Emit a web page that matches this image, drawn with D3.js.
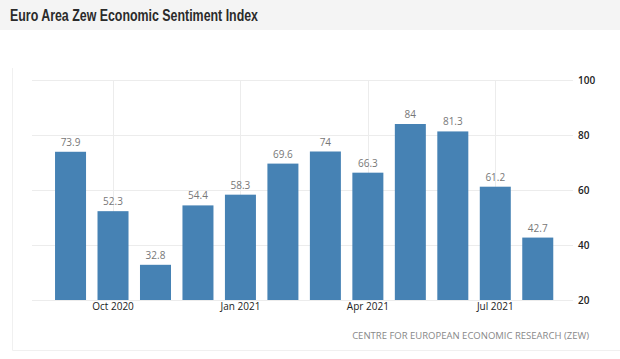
<!DOCTYPE html>
<html><head><meta charset="utf-8">
<script src="https://cdn.jsdelivr.net/npm/d3@7"></script>
<style>
body{margin:0;background:#fff;}
svg{display:block;}
</style></head>
<body>
<svg id="c" width="620" height="359"></svg>
<script>
const months = ["Sep 2020","Oct 2020","Nov 2020","Dec 2020","Jan 2021","Feb 2021","Mar 2021","Apr 2021","May 2021","Jun 2021","Jul 2021","Aug 2021"];
const values = [73.9,52.3,32.8,54.4,58.3,69.6,74,66.3,84,81.3,61.2,42.7];
const xTickLabels = ["Oct 2020","Jan 2021","Apr 2021","Jul 2021"];
const yTicks = [20,40,60,80,100];
const title = "Euro Area Zew Economic Sentiment Index";
const source = "CENTRE FOR EUROPEAN ECONOMIC RESEARCH (ZEW)";

const svg = d3.select("#c");
// title bar
svg.append("rect").attr("x",0).attr("y",0).attr("width",620).attr("height",30).attr("fill","#f4f4f4");
svg.append("text").attr("x",10).attr("y",21).text(title)
  .attr("font-family","Liberation Sans Narrow, Liberation Sans, Arial, sans-serif").attr("font-weight","bold")
  .attr("font-size",16).attr("fill","#2b2b2b")
  .attr("textLength",248).attr("lengthAdjust","spacingAndGlyphs");

// panel border
svg.append("path").attr("d","M12.5,68 V350.5 H620").attr("fill","none").attr("stroke","#f0f0f0").attr("stroke-width",1);

const x = d3.scaleBand().domain(months).range([49.3,559]).paddingInner(0.27).paddingOuter(0.135);
const y = d3.scaleLinear().domain([20,100]).range([300,80]);

const g = svg.append("g");
// horizontal grid
g.selectAll("line.h").data(yTicks).join("line")
  .attr("x1",32).attr("x2",573).attr("y1",d=>Math.round(y(d))+0.5).attr("y2",d=>Math.round(y(d))+0.5)
  .attr("stroke","#ececec");
// vertical grid
g.selectAll("line.v").data(xTickLabels).join("line")
  .attr("x1",d=>Math.round(x(d)+x.bandwidth()/2)+0.5).attr("x2",d=>Math.round(x(d)+x.bandwidth()/2)+0.5)
  .attr("y1",80).attr("y2",300).attr("stroke","#ececec");

// bars
g.selectAll("rect.bar").data(values).join("rect")
  .attr("x",(d,i)=>x(months[i])).attr("width",x.bandwidth())
  .attr("y",d=>y(d)).attr("height",d=>y(20)-y(d)).attr("fill","#4682b4");

// value labels
g.selectAll("text.val").data(values).join("text")
  .attr("x",(d,i)=>x(months[i])+x.bandwidth()/2).attr("y",d=>y(d)-6)
  .attr("text-anchor","middle").text(d=>d)
  .attr("font-family","Open Sans, sans-serif").attr("font-size",10).attr("fill","#777");

// x axis
const xAxis = d3.axisBottom(x).tickValues(xTickLabels).tickSize(0).tickPadding(0);
const xa = svg.append("g").attr("transform","translate(0,303)").call(xAxis);
xa.select(".domain").remove();
xa.selectAll("text").attr("dy","0.71em").attr("font-family","Open Sans, sans-serif").attr("font-size",10).attr("fill","#222");

// y axis
const yAxis = d3.axisRight(y).tickValues(yTicks).tickSize(0).tickPadding(0);
const ya = svg.append("g").attr("transform","translate(578,0)").call(yAxis);
ya.select(".domain").remove();
ya.selectAll("text").attr("font-family","Open Sans, sans-serif").attr("font-size",10).attr("font-weight",600).attr("fill","#222");

// source
svg.append("text").attr("x",589).attr("y",339).attr("text-anchor","end").text(source)
  .attr("font-family","Open Sans, sans-serif").attr("font-size",9.5).attr("fill","#888")
  .attr("letter-spacing",0);
</script>
</body></html>
